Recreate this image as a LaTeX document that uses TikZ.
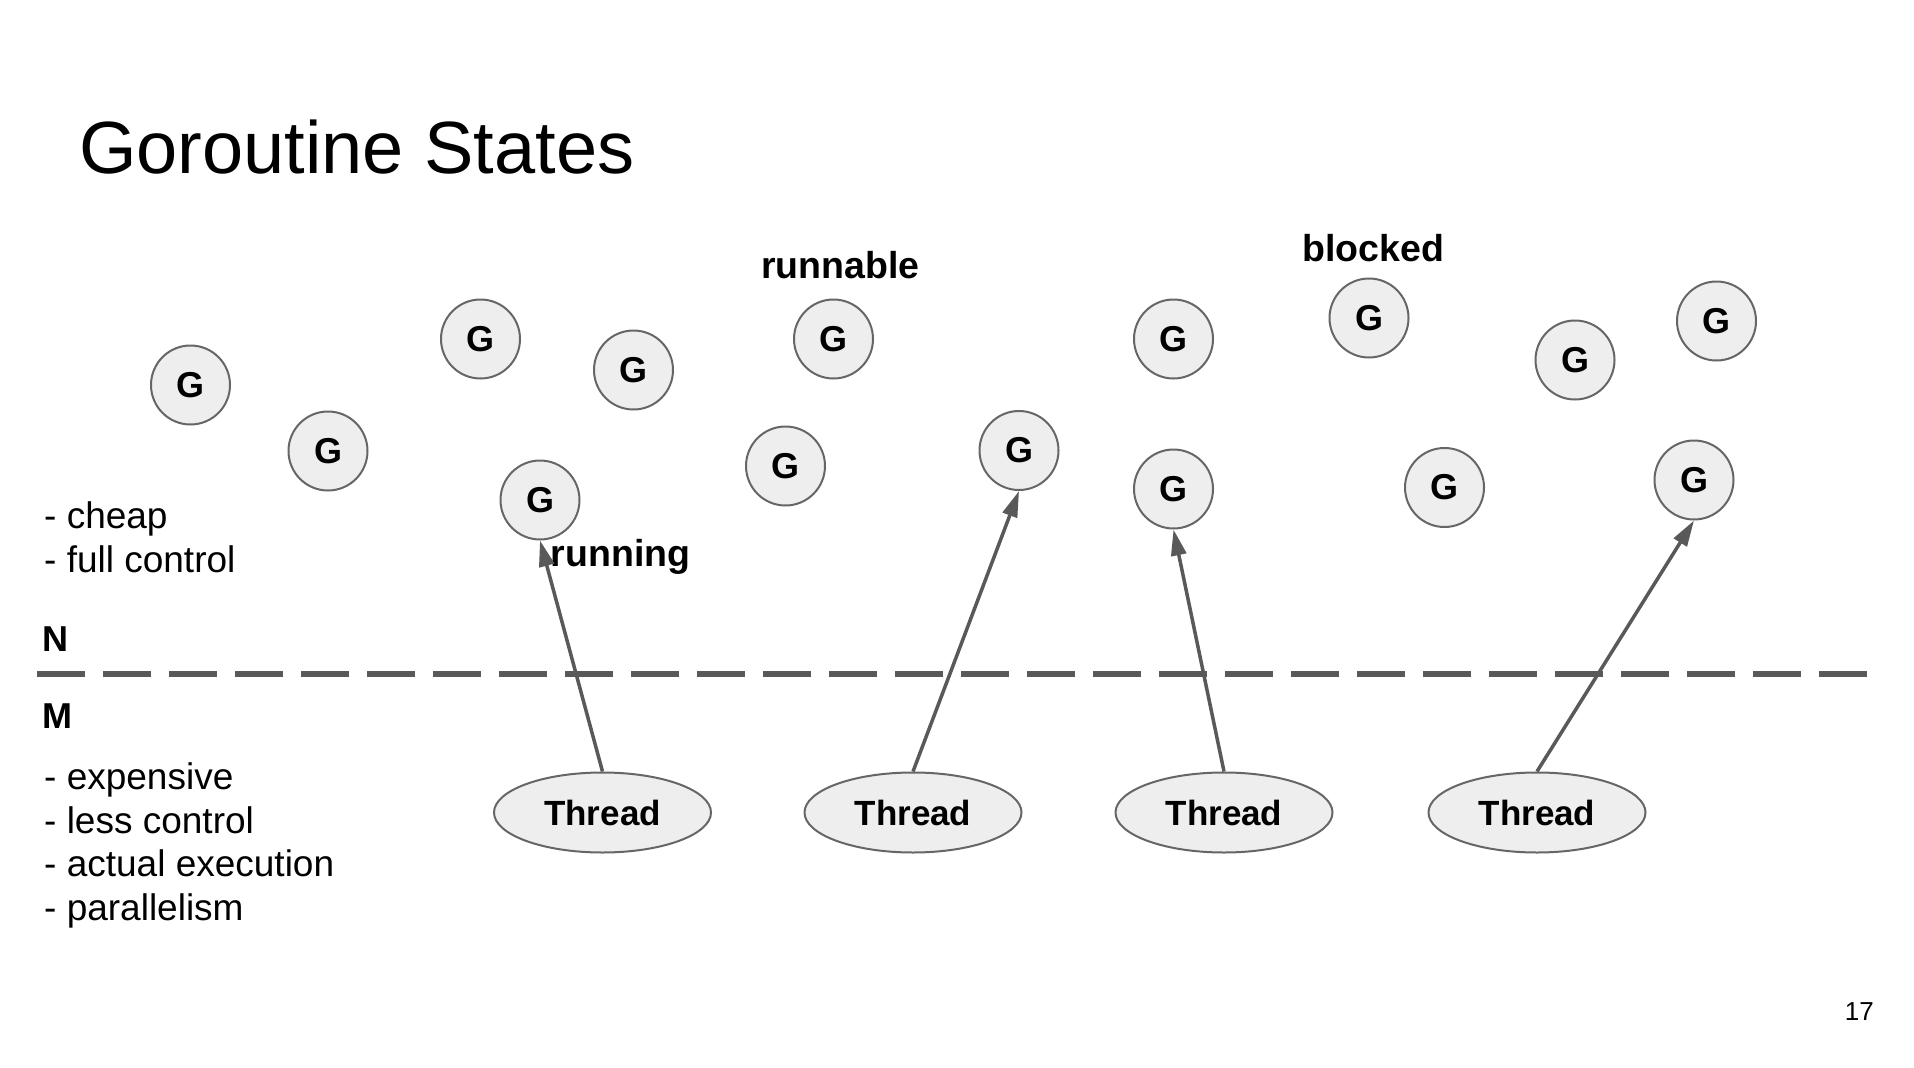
\documentclass[tikz,border=0pt]{standalone}
\usepackage{fontspec}
\setmainfont{Liberation Sans}
\usetikzlibrary{arrows.meta,shapes.geometric}
\definecolor{lc}{HTML}{595959}
\definecolor{gfill}{HTML}{EEEEEE}
\definecolor{gline}{HTML}{666666}
\begin{document}
\begin{tikzpicture}[x=1pt,y=-1pt,
 gnode/.style={circle,draw=gline,fill=gfill,line width=2pt,minimum size=79pt,inner sep=0pt,font=\fontsize{36}{40}\selectfont\bfseries},
 thr/.style={ellipse,draw=gline,fill=gfill,line width=2pt,minimum width=217pt,minimum height=80pt,inner sep=0pt,font=\fontsize{35}{40}\selectfont\bfseries},
 lab/.style={anchor=base west,inner sep=0pt,font=\fontsize{37.5}{40}\selectfont\bfseries},
 nm/.style={anchor=base west,inner sep=0pt,font=\fontsize{36}{40}\selectfont\bfseries},
 body/.style={anchor=base west,inner sep=0pt,font=\fontsize{37}{45}\selectfont},
 link/.style={draw=lc,line width=3.5pt,-{Triangle[length=26pt,width=15pt]}},
]
\useasboundingbox[fill=white] (0,0) rectangle (1914,1068);

\node[anchor=base west,inner sep=0pt,font=\fontsize{74}{80}\selectfont] (title) at (79,173) {Goroutine States};

\node[lab] (lrunnable) at (761,278) {runnable};
\node[lab] (lblocked) at (1302,261) {blocked};

% goroutines
\node[gnode] (g1) at (190.5,385) {G};
\node[gnode] (g2) at (328,451) {G};
\node[gnode] (g3) at (480.5,339) {G};
\node[gnode] (g4) at (633.5,370) {G};
\node[gnode] (g5) at (833.5,339) {G};
\node[gnode] (g6) at (785.5,466) {G};
\node[gnode] (g7) at (540,500) {G};
\node[gnode] (g8) at (1173.5,339) {G};
\node[gnode] (g9) at (1369,318) {G};
\node[gnode] (g10) at (1575,360) {G};
\node[gnode] (g11) at (1716.5,321) {G};
\node[gnode] (g12) at (1019,450.5) {G};
\node[gnode] (g13) at (1173.5,489) {G};
\node[gnode] (g14) at (1444.5,487.5) {G};
\node[gnode] (g15) at (1694,480) {G};

\node[lab] (lrunning) at (550.5,566) {running};

% left texts
\node[body] (t1) at (44,528) {- cheap};
\node[body] (t2) at (44,572.5) {- full control};
\node[nm] (lN) at (42,651.5) {N};
\node[nm] (lM) at (42,728) {M};
\node[body] (t3) at (44,789) {- expensive};
\node[body] (t4) at (44,833) {- less control};
\node[body] (t5) at (44,876.7) {- actual execution};
\node[body] (t6) at (44,920.7) {- parallelism};

% separator
\coordinate (dl) at (37,674);
\coordinate (dr) at (1871,674);
\draw[lc,line width=6pt,dash pattern=on 48pt off 18pt] (dl) -- (dr);

% threads
\node[thr] (th1) at (602.5,812.5) {Thread};
\node[thr] (th2) at (913,812.5) {Thread};
\node[thr] (th3) at (1224,812.5) {Thread};
\node[thr] (th4) at (1537,812.5) {Thread};

\draw[link] (th1.north) -- (g7.south);
\draw[link] (th2.north) -- (g12.south);
\draw[link] (th3.north) -- (g13.south);
\draw[link] (th4.north) -- (g15.south);

\node[anchor=base east,inner sep=0pt,font=\fontsize{26}{30}\selectfont] (pnum) at (1874,1020) {17};
\end{tikzpicture}
\end{document}
